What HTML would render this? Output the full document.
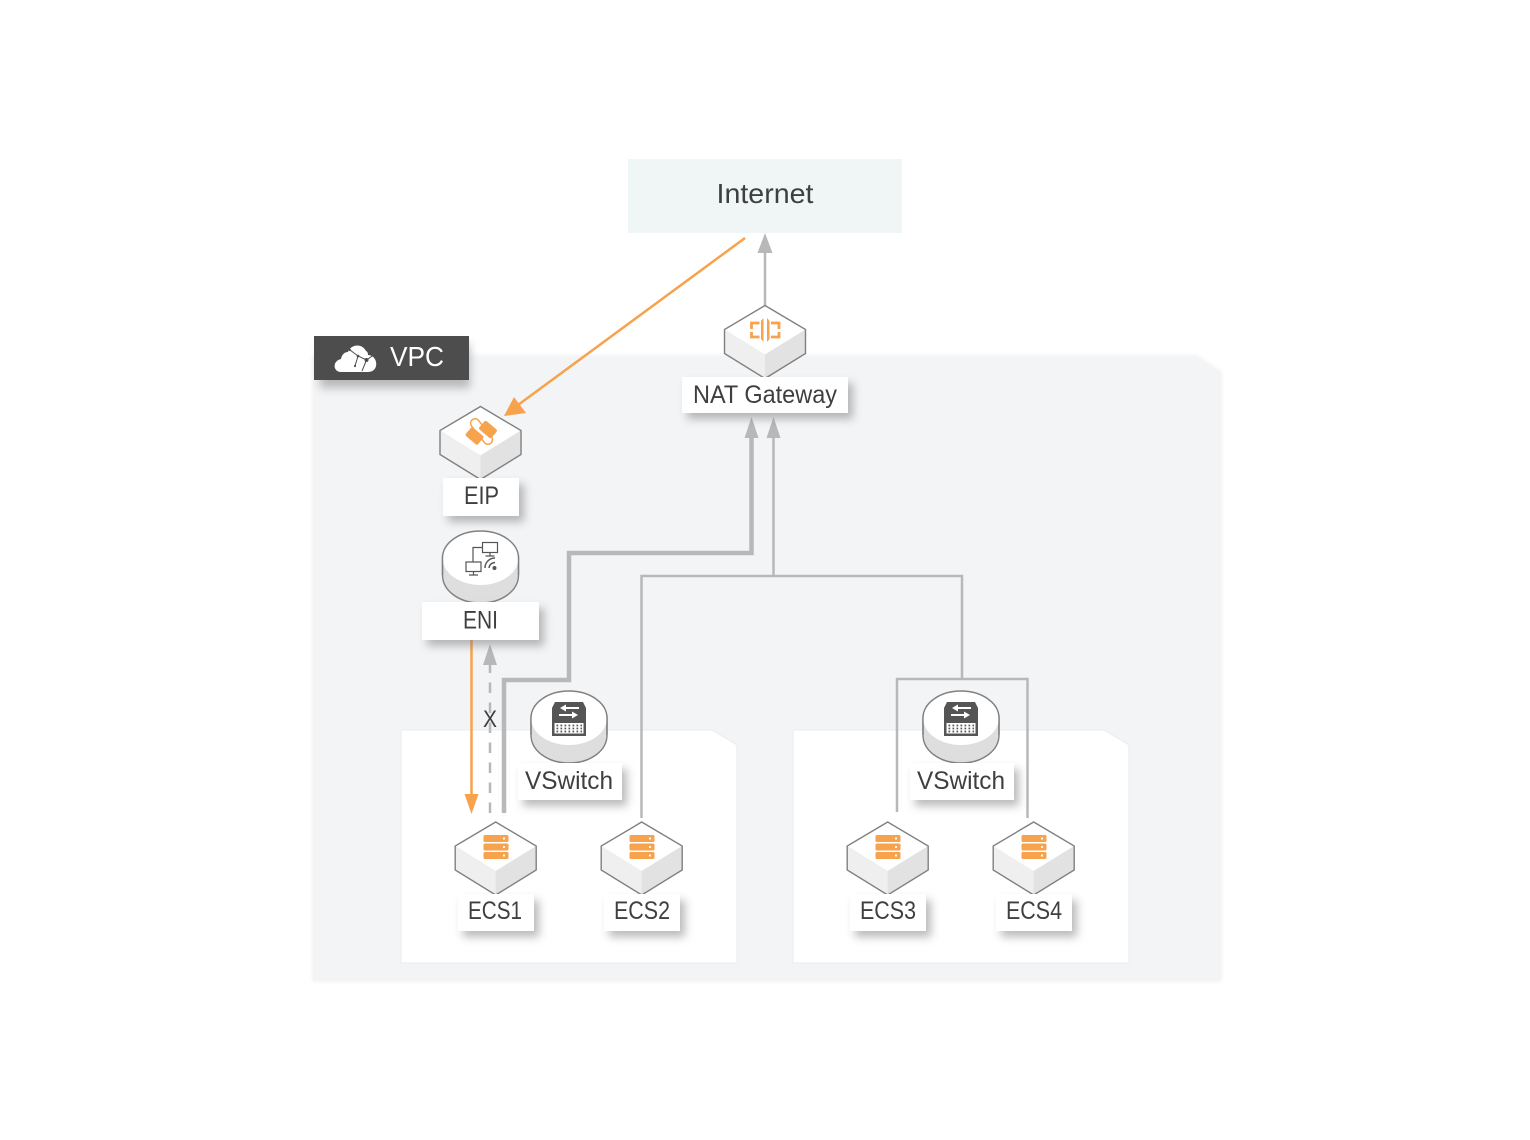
<!DOCTYPE html>
<html><head><meta charset="utf-8"><style>
html,body{margin:0;padding:0;background:#fff}
svg{display:block}
text{font-family:"Liberation Sans",sans-serif;fill:#3f3f3f}
</style></head><body>
<svg xmlns="http://www.w3.org/2000/svg" width="1530" height="1140" viewBox="0 0 1530 1140">
<defs>
<filter id="soft" x="-10%" y="-10%" width="120%" height="120%"><feGaussianBlur stdDeviation="2.5"/></filter>
<filter id="lab" x="-40%" y="-60%" width="190%" height="240%"><feGaussianBlur stdDeviation="4.5"/></filter>
<symbol id="cube" overflow="visible">
<path d="M0 0L40.500 24V48L0 73L-40.500 48V24Z" fill="#e9e9e9"/>
<path d="M0 0L40.500 24L0 49L-40.500 24Z" fill="#fff"/>
<path d="M0 49L-40.500 24V48L0 73Z" fill="#efefef"/>
<path d="M0 49L40.500 24V48L0 73Z" fill="#e2e2e2"/>
<path d="M0 0L40.500 24V48L0 73L-40.500 48V24Z" fill="none" stroke="#808080" stroke-width="1.400"/>
</symbol>
<symbol id="cyl" overflow="visible">
<path d="M-38 25V44C-38 60-21 72 0 72C21 72 38 60 38 44V25Z" fill="#dedede" stroke="#808080" stroke-width="1.400"/>
<path d="M-38 27C-38 12-21 0 0 0C21 0 38 12 38 27C38 42 21 54 0 54C-21 54-38 42-38 27Z" fill="#fff"/>
<path d="M-38 44V27C-38 12-21 0 0 0C21 0 38 12 38 27V44" fill="none" stroke="#808080" stroke-width="1.400"/>
</symbol>
<symbol id="srv" overflow="visible">
<g fill="#f7a24c">
<rect x="-12.500" y="0" width="25" height="7" rx="1.500"/>
<rect x="-12.500" y="8.500" width="25" height="7" rx="1.500"/>
<rect x="-12.500" y="17" width="25" height="7" rx="1.500"/>
</g>
<g fill="#fff"><circle cx="8" cy="3.500" r="1.100"/><circle cx="8" cy="12" r="1.100"/><circle cx="8" cy="20.500" r="1.100"/></g>
</symbol>
<symbol id="sw" overflow="visible">
<path d="M-14 0H14L17 6V34H-17V6Z" fill="#555"/>
<rect x="-14.500" y="21" width="29" height="10.500" fill="#fff"/>
<g stroke="#555" stroke-width="1.700" stroke-dasharray="1.700 2.300" fill="none">
<path d="M-12.500 23.500H13"/><path d="M-12.500 26.500H13"/><path d="M-12.500 29.500H13"/>
</g>
<path d="M-9 6L-3 2.500V5H10V7H-3V9.500Z" fill="#fff"/>
<path d="M9 13L3 9.500V12H-10V14H3V16.500Z" fill="#fff"/>
</symbol>
</defs>

<rect width="1530" height="1140" fill="#fff"/>

<!-- VPC panel -->
<path d="M313 356H1196L1221 372V981H313Z" fill="#bbb" opacity=".25" filter="url(#soft)"/>
<path d="M313 356H1196L1221 372V981H313Z" fill="#f2f4f6"/>
<!-- subnets -->
<path d="M401 730H712L737 745V963H401Z" fill="#fff" stroke="#eaebec" stroke-width="1"/>
<path d="M793 730H1104L1129 745V963H793Z" fill="#fff" stroke="#eaebec" stroke-width="1"/>

<!-- VPC header -->
<rect x="320" y="344" width="150" height="44" fill="#888" opacity=".55" filter="url(#lab)"/>
<rect x="314" y="336" width="155" height="44" fill="#4d4d4d"/>
<path d="M341 372C333 372 332 361 341 359C342 354 345 352 348 352C351 344 362 343 366 351C368 352 368 354 368 355C378 355 380 372 368 372Z" fill="#fff"/>
<path d="M350 350L358 356L366.500 360L375 354M358 356L355 366M366.500 360L362 371" stroke="#4d4d4d" stroke-width="1" fill="none"/>
<g fill="#4d4d4d"><circle cx="366.500" cy="360" r="2"/><circle cx="358" cy="356" r="1.300"/><circle cx="350" cy="350" r="1.100"/><circle cx="355" cy="366" r="1.100"/></g>
<text x="390" y="366" font-size="28" textLength="54" lengthAdjust="spacingAndGlyphs" style="fill:#fff">VPC</text>

<!-- Internet -->
<rect x="628" y="159" width="274" height="74" fill="#f0f5f5"/>
<text x="716.500" y="203" font-size="28" textLength="97" lengthAdjust="spacingAndGlyphs">Internet</text>

<!-- connectors -->
<g fill="none" stroke="#b8b8b8">
<path d="M765 306V248" stroke-width="2.500"/>
<path d="M773.500 576V432" stroke-width="2.500"/>
<path d="M641.500 818V576H962V679" stroke-width="2.500"/>
<path d="M897 812V679H1027.500V818" stroke-width="2.500"/>
<path d="M504 813V680H569V553H751.500V432" stroke-width="4.500"/>
<path d="M490 813V660" stroke-width="2.500" stroke-dasharray="10.500 9.500"/>
</g>
<g fill="#b8b8b8">
<path d="M765 233L772.500 253H757.500Z"/>
<path d="M773.500 417L780.500 438H766.500Z"/>
<path d="M751.500 417L758.500 438H744.500Z"/>
<path d="M490 644L497 665H483Z"/>
</g>
<g fill="none" stroke="#f7a24c" stroke-width="2.500">
<path d="M745 238L518 405"/>
<path d="M471.500 640V796"/>
</g>
<g fill="#f7a24c">
<path d="M504 416L514 397L526 413Z"/>
<path d="M471.500 814L464.500 794H478.500Z"/>
</g>
<text x="483" y="727" font-size="24" textLength="14" lengthAdjust="spacingAndGlyphs">X</text>

<!-- Nodes -->
<use href="#cube" x="765" y="305.500"/>
<g fill="none" stroke="#f7a24c" stroke-width="2.800">
<path d="M759.500 323H751.500V329M751.500 332V337H759.500"/>
<path d="M771 323H779V329M779 332V337H771"/>
</g>
<g fill="#f7a24c">
<path d="M761 321L763.500 318V342L761 339Z"/>
<path d="M767 318L769.500 321V339L767 342Z"/>
</g>

<use href="#cube" x="480.500" y="406.500"/>
<rect x="466.500" y="430.500" width="16" height="11" rx="2" fill="#f7a24c" transform="rotate(40 474.500 436)"/>
<rect x="480" y="424" width="16" height="11" rx="2" fill="#f7a24c" transform="rotate(40 488 429.500)"/>
<rect x="466.500" y="427" width="30" height="9" rx="4.500" fill="none" stroke="#f7a24c" stroke-width="1.500" transform="rotate(52 481.500 431.500)"/>

<use href="#cyl" x="480.500" y="531"/>
<g fill="none" stroke="#555" stroke-width="1.200">
<rect x="482.500" y="542.500" width="15" height="10"/><path d="M490 552.500V556M485.500 556H494.500"/>
<rect x="466" y="562" width="15" height="9.500"/><path d="M473.500 571.500V575M469 575H478"/>
<path d="M482.500 547.500H473V562"/>
<path d="M485 568A10 10 0 0 1 495 558M489 568A6 6 0 0 1 495 562.500" stroke-width="1.400"/>
</g>
<circle cx="494.500" cy="568" r="2" fill="#555"/>

<use href="#cyl" x="569" y="691"/>
<use href="#sw" x="569" y="702"/>
<use href="#cyl" x="961" y="691"/>
<use href="#sw" x="961" y="702"/>

<use href="#cube" x="495.700" y="822"/><use href="#srv" x="496" y="835"/>
<use href="#cube" x="641.700" y="822"/><use href="#srv" x="642" y="835"/>
<use href="#cube" x="887.700" y="822"/><use href="#srv" x="888" y="835"/>
<use href="#cube" x="1033.700" y="822"/><use href="#srv" x="1034" y="835"/>

<!-- label shadows -->
<g fill="#777" opacity=".5" filter="url(#lab)">
<rect x="687" y="383" width="166" height="36"/>
<rect x="448" y="484" width="76" height="38"/>
<rect x="427" y="608" width="117" height="38"/>
<rect x="523" y="769" width="104" height="37"/>
<rect x="915" y="769" width="104" height="37"/>
<rect x="463" y="900" width="76" height="37"/>
<rect x="609" y="900" width="76" height="37"/>
<rect x="855" y="900" width="76" height="37"/>
<rect x="1001" y="900" width="76" height="37"/>
</g>
<!-- label boxes -->
<g fill="#fff">
<rect x="682" y="377" width="166" height="36"/>
<rect x="443" y="478" width="76" height="38"/>
<rect x="422" y="602" width="117" height="38"/>
<rect x="518" y="763" width="104" height="37"/>
<rect x="910" y="763" width="104" height="37"/>
<rect x="458" y="894" width="76" height="37"/>
<rect x="604" y="894" width="76" height="37"/>
<rect x="850" y="894" width="76" height="37"/>
<rect x="996" y="894" width="76" height="37"/>
</g>
<g font-size="25">
<text x="693" y="403" textLength="144" lengthAdjust="spacingAndGlyphs">NAT Gateway</text>
<text x="464" y="504" textLength="35" lengthAdjust="spacingAndGlyphs">EIP</text>
<text x="463" y="628.500" textLength="35" lengthAdjust="spacingAndGlyphs">ENI</text>
<text x="525" y="789" textLength="88" lengthAdjust="spacingAndGlyphs">VSwitch</text>
<text x="917" y="789" textLength="88" lengthAdjust="spacingAndGlyphs">VSwitch</text>
<text x="468" y="919" textLength="54" lengthAdjust="spacingAndGlyphs">ECS1</text>
<text x="614" y="919" textLength="56" lengthAdjust="spacingAndGlyphs">ECS2</text>
<text x="860" y="919" textLength="56" lengthAdjust="spacingAndGlyphs">ECS3</text>
<text x="1006" y="919" textLength="56" lengthAdjust="spacingAndGlyphs">ECS4</text>
</g>
</svg>
</body></html>
